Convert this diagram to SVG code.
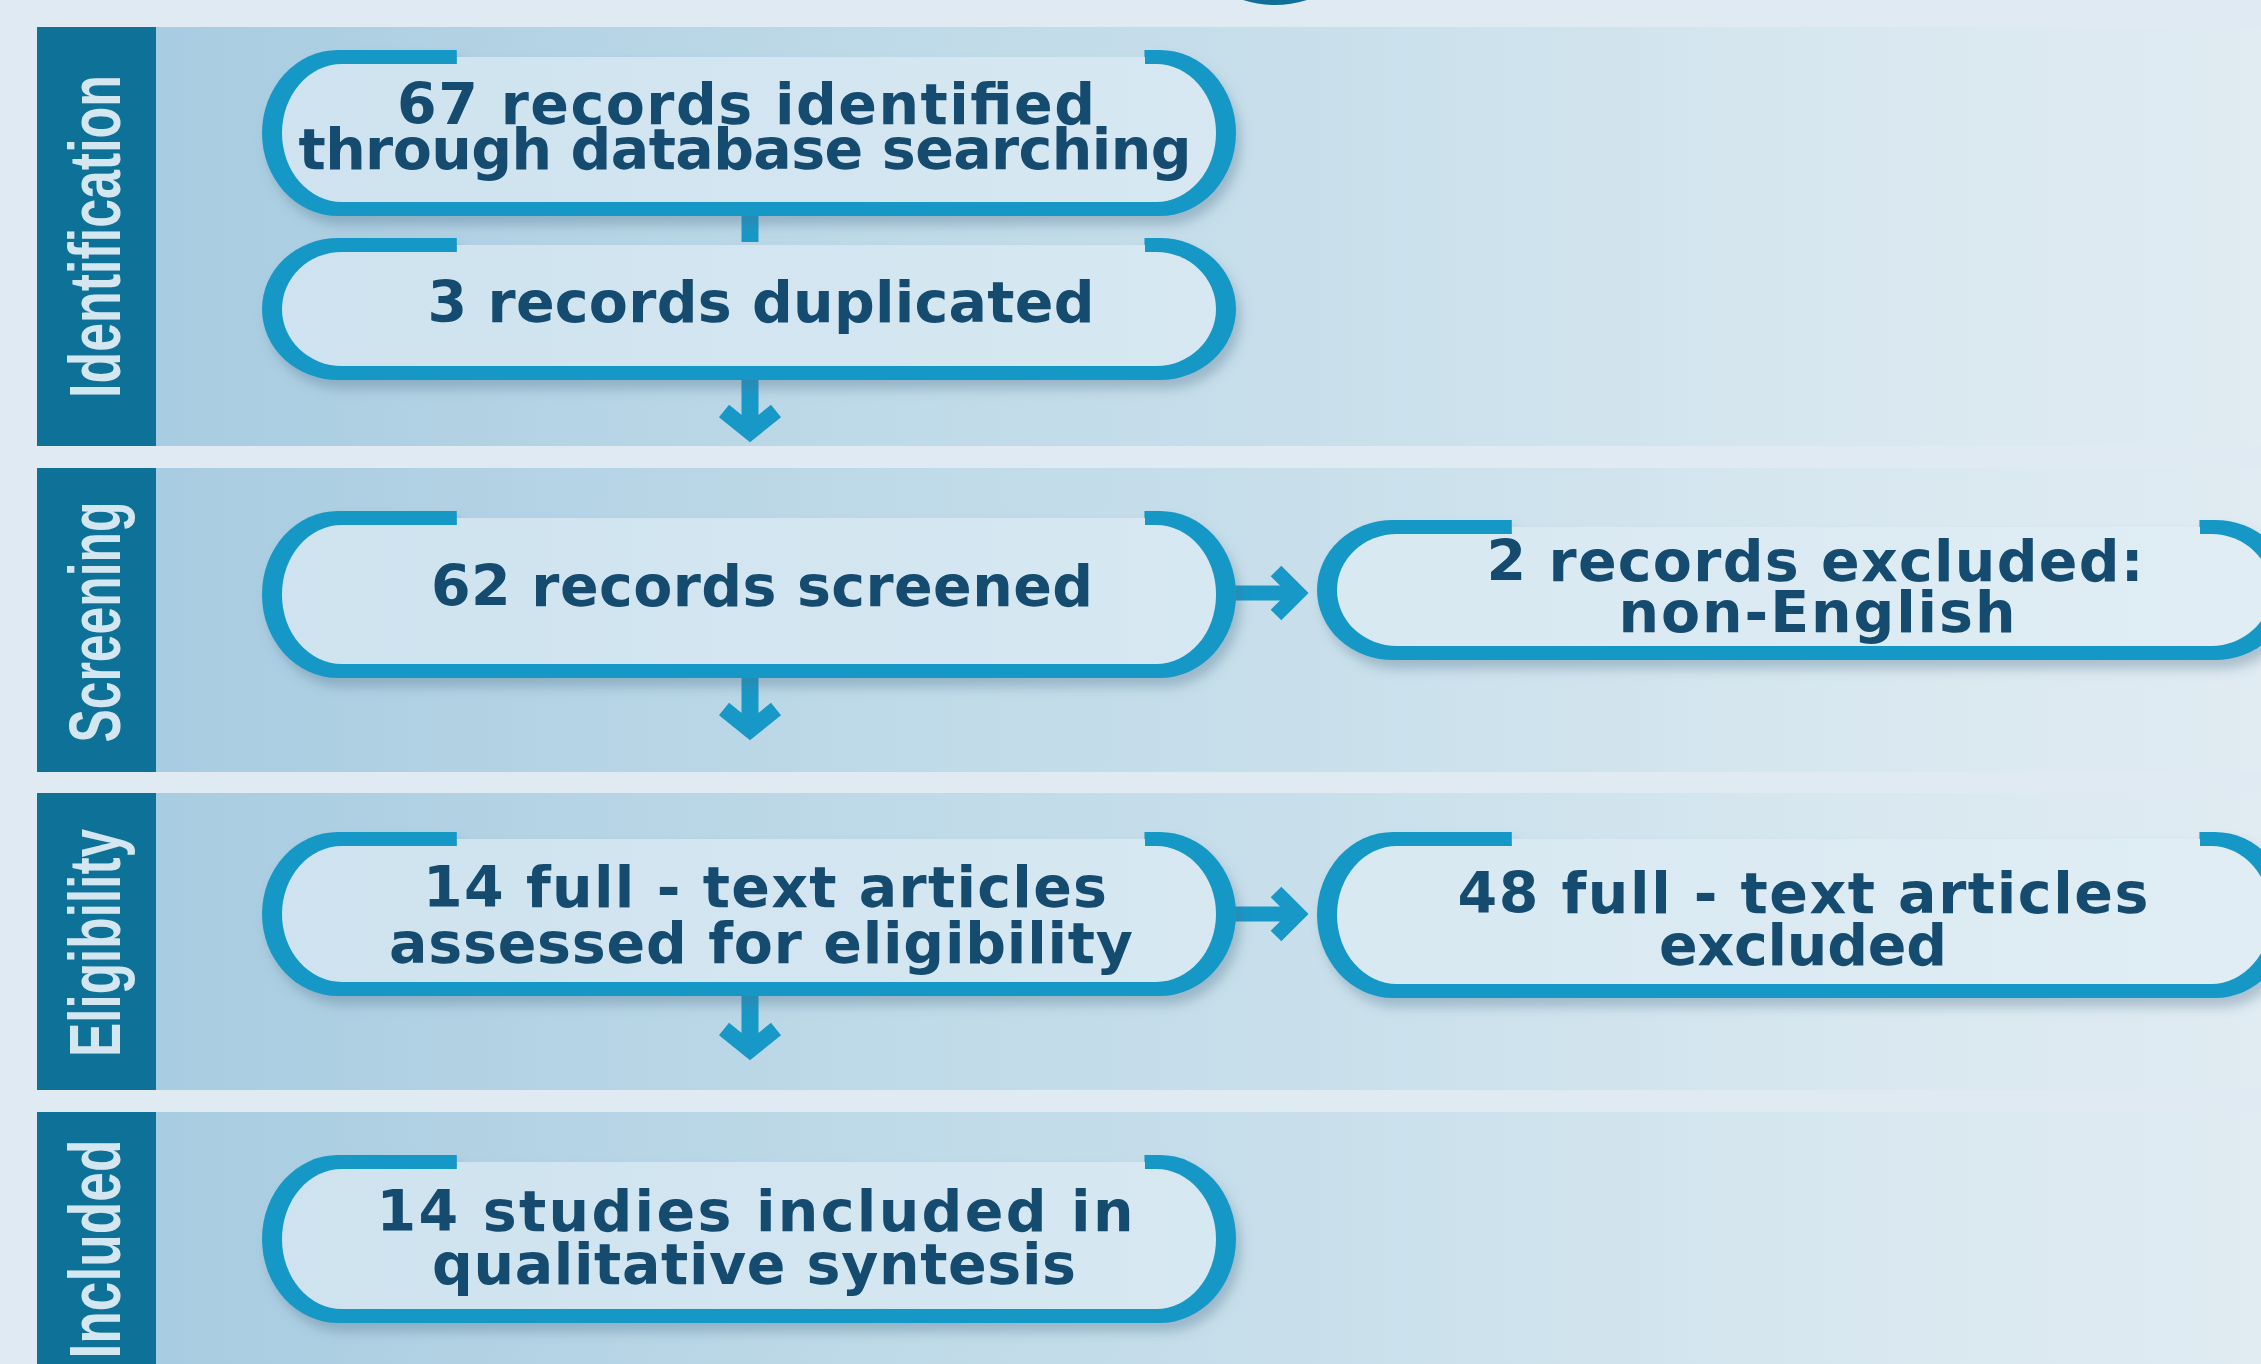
<svg xmlns="http://www.w3.org/2000/svg" width="2261" height="1364" viewBox="0 0 2261 1364">
<style>
.bg{fill:#dfeaf2}
.panel{fill:url(#panelGrad)}
.bar{fill:#0d7198}
.stage{font-family:"Liberation Sans Narrow","Liberation Sans",Arial,sans-serif;font-weight:bold;font-size:73px;fill:#d4e7f1;text-anchor:middle}
.rim{fill:#1898c7}
.fill{fill:url(#boxGrad)}
.t{font-family:"DejaVu Sans",Verdana,sans-serif;font-weight:bold;font-size:57px;fill:#134b70;text-anchor:middle}
.conn{fill:none;stroke:#1898c7;stroke-linejoin:miter;stroke-linecap:butt}
</style>
<defs>
<linearGradient id="panelGrad" gradientUnits="userSpaceOnUse" x1="156" y1="0" x2="2261" y2="0">
<stop offset="0" stop-color="#a8cce1"/>
<stop offset="0.3" stop-color="#bcd8e7"/>
<stop offset="0.6" stop-color="#cbe1ec"/>
<stop offset="0.82" stop-color="#d9e8f0"/>
<stop offset="1" stop-color="#e0ebf2"/>
</linearGradient>
<linearGradient id="boxGrad" gradientUnits="userSpaceOnUse" x1="262" y1="0" x2="2261" y2="0">
<stop offset="0" stop-color="#cee3ef"/>
<stop offset="1" stop-color="#e0edf4"/>
</linearGradient>
<clipPath id="gap" clipPathUnits="objectBoundingBox">
<rect x="0" y="0" width="0.2" height="1"/>
<rect x="0.906" y="0" width="0.2" height="1"/>
<rect x="0" y="0.3" width="1" height="0.7"/>
</clipPath>
<filter id="shadow" x="-5%" y="-10%" width="115%" height="140%">
<feDropShadow dx="5" dy="9" stdDeviation="6" flood-color="#4a7088" flood-opacity="0.35"/>
</filter>
</defs>

<rect class="bg" x="0" y="0" width="2261" height="1364"/>
<path d="M1243,0 Q1275,10 1307,0 Z" fill="#0f6f98"/>

<g id="stage-identification">
<rect class="panel" x="156" y="27" width="2105" height="419"/>
<rect class="bar" x="37" y="27" width="119" height="419"/>
<text class="stage" transform="translate(120,236.5) rotate(-90)" textLength="323" lengthAdjust="spacingAndGlyphs">Identification</text>
</g>
<g id="stage-screening">
<rect class="panel" x="156" y="468" width="2105" height="304"/>
<rect class="bar" x="37" y="468" width="119" height="304"/>
<text class="stage" transform="translate(120,622) rotate(-90)" textLength="241" lengthAdjust="spacingAndGlyphs">Screening</text>
</g>
<g id="stage-eligibility">
<rect class="panel" x="156" y="793" width="2105" height="297"/>
<rect class="bar" x="37" y="793" width="119" height="297"/>
<text class="stage" transform="translate(120,943) rotate(-90)" textLength="228" lengthAdjust="spacingAndGlyphs">Eligibility</text>
</g>
<g id="stage-included">
<rect class="panel" x="156" y="1112" width="2105" height="252"/>
<rect class="bar" x="37" y="1112" width="119" height="252"/>
<text class="stage" transform="translate(120,1249) rotate(-90)" textLength="219" lengthAdjust="spacingAndGlyphs">Included</text>
</g>

<g id="connectors" class="conn">
<line x1="750" y1="214" x2="750" y2="242" stroke-width="17"/>
<line x1="750" y1="378" x2="750" y2="432" stroke-width="17"/>
<path d="M724,411 L750,432 L776,411" stroke-width="16"/>
<line x1="750" y1="676" x2="750" y2="730" stroke-width="17"/>
<path d="M724,709 L750,730 L776,709" stroke-width="16"/>
<line x1="750" y1="994" x2="750" y2="1050" stroke-width="17"/>
<path d="M724,1029 L750,1050 L776,1029" stroke-width="16"/>
<line x1="1234" y1="593" x2="1298" y2="593" stroke-width="15"/>
<path d="M1276,571 L1298,593 L1276,615" stroke-width="15"/>
<line x1="1234" y1="914" x2="1298" y2="914" stroke-width="15"/>
<path d="M1276,892 L1298,914 L1276,936" stroke-width="15"/>
</g>

<g id="box-identified" filter="url(#shadow)">
<rect class="rim" x="262" y="50" width="974" height="166" rx="76" ry="83" clip-path="url(#gap)"/>
<rect class="fill" x="282" y="64" width="934" height="138" rx="60" ry="69"/>
<rect class="fill" x="457" y="57" width="688" height="10"/>
<text class="t" x="746" y="124" textLength="698" lengthAdjust="spacing">67 records identified</text>
<text class="t" x="745" y="169" textLength="893" lengthAdjust="spacing">through database searching</text>
</g>

<g id="box-duplicated" filter="url(#shadow)">
<rect class="rim" x="262" y="238" width="974" height="142" rx="76" ry="71" clip-path="url(#gap)"/>
<rect class="fill" x="282" y="252" width="934" height="114" rx="60" ry="57"/>
<rect class="fill" x="457" y="245" width="688" height="10"/>
<text class="t" x="761" y="322" textLength="667" lengthAdjust="spacing">3 records duplicated</text>
</g>

<g id="box-screened" filter="url(#shadow)">
<rect class="rim" x="262" y="511" width="974" height="167" rx="76" ry="83" clip-path="url(#gap)"/>
<rect class="fill" x="282" y="525" width="934" height="139" rx="60" ry="69"/>
<rect class="fill" x="457" y="518" width="688" height="10"/>
<text class="t" x="762" y="606" textLength="662" lengthAdjust="spacing">62 records screened</text>
</g>

<g id="box-excluded-records" filter="url(#shadow)">
<rect class="rim" x="1317" y="520" width="974" height="140" rx="76" ry="70" clip-path="url(#gap)"/>
<rect class="fill" x="1337" y="534" width="934" height="112" rx="60" ry="56"/>
<rect class="fill" x="1512" y="527" width="688" height="10"/>
<text class="t" x="1815" y="581" textLength="657" lengthAdjust="spacing">2 records excluded:</text>
<text class="t" x="1817" y="632" textLength="397" lengthAdjust="spacing">non-English</text>
</g>

<g id="box-assessed" filter="url(#shadow)">
<rect class="rim" x="262" y="832" width="974" height="164" rx="76" ry="82" clip-path="url(#gap)"/>
<rect class="fill" x="282" y="846" width="934" height="136" rx="60" ry="68"/>
<rect class="fill" x="457" y="839" width="688" height="10"/>
<text class="t" x="765" y="907" textLength="684" lengthAdjust="spacing">14 full - text articles</text>
<text class="t" x="761" y="963" textLength="744" lengthAdjust="spacing">assessed for eligibility</text>
</g>

<g id="box-excluded-articles" filter="url(#shadow)">
<rect class="rim" x="1317" y="832" width="974" height="166" rx="76" ry="83" clip-path="url(#gap)"/>
<rect class="fill" x="1337" y="846" width="934" height="138" rx="60" ry="69"/>
<rect class="fill" x="1512" y="839" width="688" height="10"/>
<text class="t" x="1803" y="913" textLength="691" lengthAdjust="spacing">48 full - text articles</text>
<text class="t" x="1803" y="965" textLength="288" lengthAdjust="spacing">excluded</text>
</g>

<g id="box-included" filter="url(#shadow)">
<rect class="rim" x="262" y="1155" width="974" height="168" rx="76" ry="84" clip-path="url(#gap)"/>
<rect class="fill" x="282" y="1169" width="934" height="140" rx="60" ry="70"/>
<rect class="fill" x="457" y="1162" width="688" height="10"/>
<text class="t" x="755" y="1231" textLength="757" lengthAdjust="spacing">14 studies included in</text>
<text class="t" x="754" y="1284" textLength="644" lengthAdjust="spacing">qualitative syntesis</text>
</g>
</svg>
